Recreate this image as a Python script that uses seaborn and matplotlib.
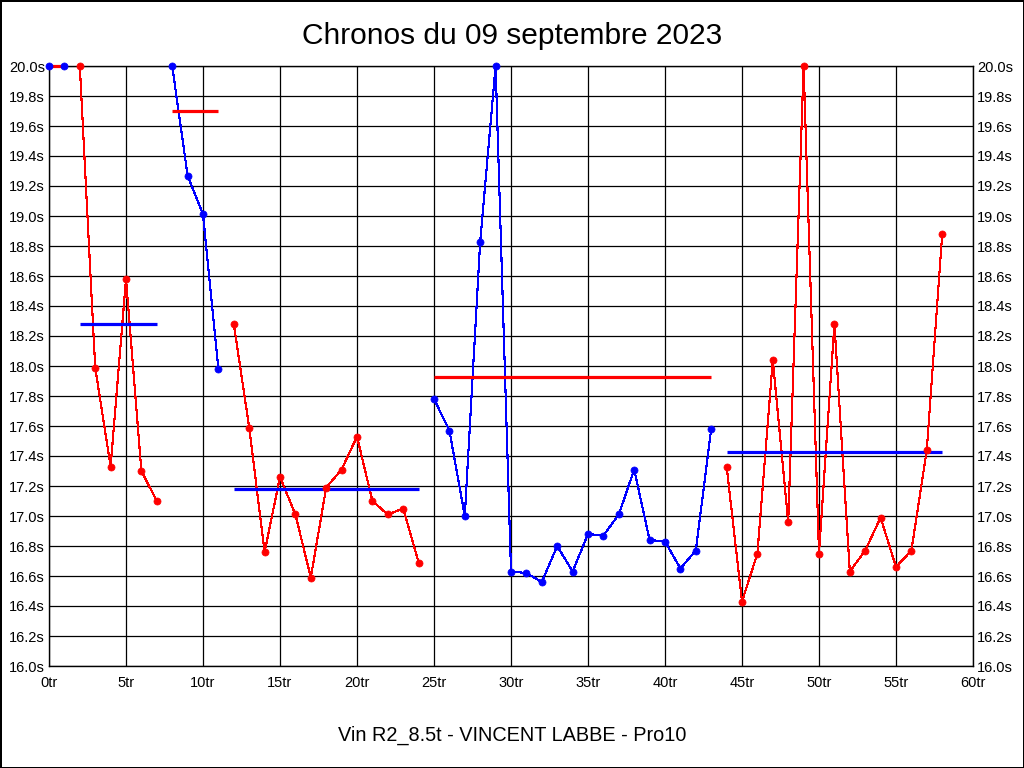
import numpy as np
import matplotlib
matplotlib.use("Agg")
import matplotlib.pyplot as plt
import pandas as pd
import seaborn as sns
from matplotlib.ticker import FuncFormatter, MultipleLocator

# Lap times (values above 20.0s are shown capped at 20.0s)
blue1_laps = [0, 1]
blue1_times = [20.0, 20.0]
blue1_mean = 20.0

red1_laps = [2, 3, 4, 5, 6, 7]
red1_times = [20.0, 17.99, 17.33, 18.58, 17.30, 17.10]
red1_mean = 18.28

blue2_laps = [8, 9, 10, 11]
blue2_times = [20.0, 19.27, 19.01, 17.98]
blue2_mean = 19.70

red2_laps = [12, 13, 14, 15, 16, 17, 18, 19, 20, 21, 22, 23, 24]
red2_times = [18.28, 17.59, 16.76, 17.26, 17.01, 16.59, 17.19, 17.31, 17.53,
              17.10, 17.01, 17.05, 16.69]
red2_mean = 17.18

blue3_laps = [25, 26, 27, 28, 29, 30, 31, 32, 33, 34, 35, 36, 37, 38, 39, 40,
              41, 42, 43]
blue3_times = [17.78, 17.57, 17.00, 18.83, 20.0, 16.63, 16.62, 16.56, 16.80,
               16.63, 16.88, 16.87, 17.01, 17.31, 16.84, 16.83, 16.65, 16.77,
               17.58]
blue3_mean = 17.93

red3_laps = [44, 45, 46, 47, 48, 49, 50, 51, 52, 53, 54, 55, 56, 57, 58]
red3_times = [17.33, 16.43, 16.75, 18.04, 16.96, 20.0, 16.75, 18.28, 16.63,
              16.77, 16.99, 16.66, 16.77, 17.44, 18.88]
red3_mean = 17.43

title = "Chronos du 09 septembre 2023"
subtitle = "Vin R2_8.5t - VINCENT LABBE - Pro10"

RED = "#ff0000"
BLUE = "#0000ff"

segments = [
    (blue1_laps, blue1_times, blue1_mean, BLUE),
    (red1_laps, red1_times, red1_mean, RED),
    (blue2_laps, blue2_times, blue2_mean, BLUE),
    (red2_laps, red2_times, red2_mean, RED),
    (blue3_laps, blue3_times, blue3_mean, BLUE),
    (red3_laps, red3_times, red3_mean, RED),
]

sns.set_style("white")
plt.rcParams["font.family"] = ["Liberation Sans", "DejaVu Sans"]
plt.rcParams["text.color"] = "black"

fig = plt.figure(figsize=(10.24, 7.68), dpi=100)
fig.patch.set_facecolor("white")
fig.patch.set_edgecolor("black")
fig.patch.set_linewidth(2)
ax = fig.add_axes([49 / 1024, 1 - 666 / 768, 924 / 1024, 600 / 768])

# grid
ax.xaxis.set_major_locator(MultipleLocator(5))
ax.yaxis.set_major_locator(MultipleLocator(0.2))
ax.grid(True, color="black", linewidth=0.9)
ax.set_axisbelow(True)

for laps, times, mean, color in segments:
    df = pd.DataFrame({"lap": laps, "time": times})
    sns.lineplot(data=df, x="lap", y="time", ax=ax, color=color,
                 linewidth=0.8, antialiased=False, zorder=3)
    sns.scatterplot(data=df, x="lap", y="time", ax=ax, color=color,
                    s=26, edgecolor=color, linewidth=0.5, zorder=5,
                    clip_on=False)

# mean of each stint, drawn in the other colour
for laps, times, mean, color in segments:
    other = RED if color == BLUE else BLUE
    ax.hlines(mean, laps[0], laps[-1], colors=other, linewidth=2.3, zorder=4,
              clip_on=False)

ax.set_xlim(0, 60)
ax.set_ylim(16.0, 20.0)
ax.xaxis.set_major_formatter(FuncFormatter(lambda v, p: f"{v:.0f}tr"))
ax.yaxis.set_major_formatter(FuncFormatter(lambda v, p: f"{v:.1f}s"))
ax.tick_params(axis="both", length=0, labelsize=10.5, colors="black")
ax.tick_params(axis="y", labelright=True, right=False, pad=3)
ax.tick_params(axis="x", pad=7)
for s in ax.spines.values():
    s.set_color("black")
    s.set_linewidth(1.0)

ax.set_xlabel("")
ax.set_ylabel("")
fig.text(0.5, 1 - 36 / 768, title, ha="center", va="center", fontsize=21.5,
         color="black")
fig.text(0.5, 1 - 735 / 768, subtitle, ha="center", va="center", fontsize=14.3,
         color="black")

fig.savefig("out.png", dpi=100, facecolor=fig.get_facecolor(),
            edgecolor=fig.get_edgecolor())
